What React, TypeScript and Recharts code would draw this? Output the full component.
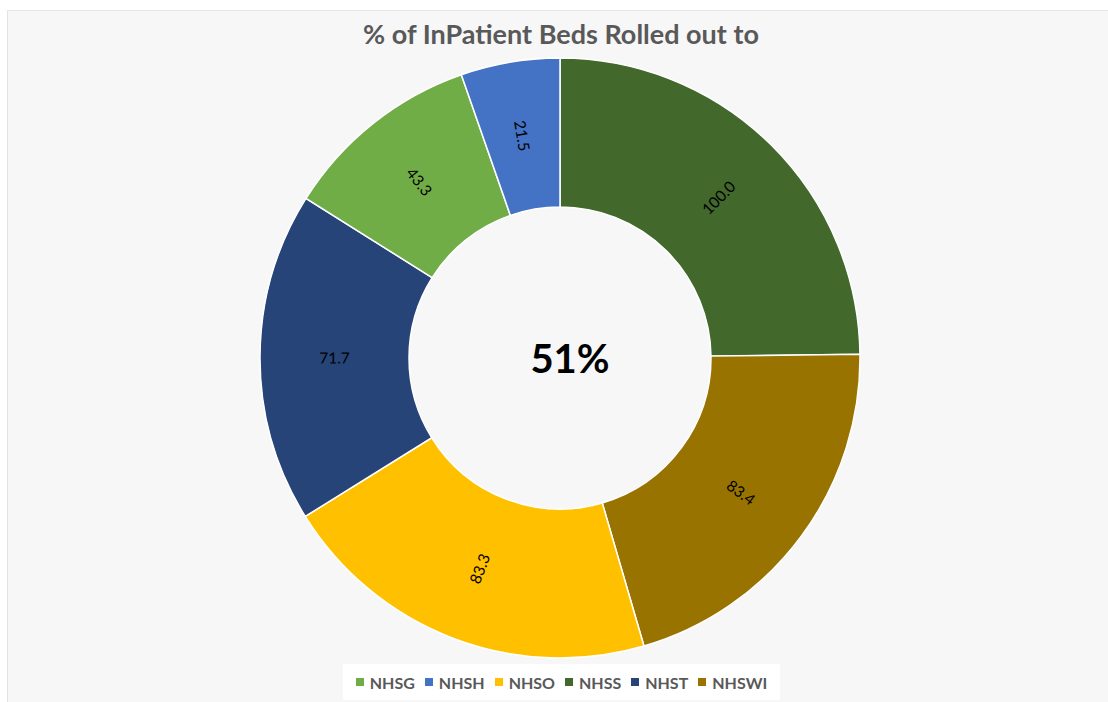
import { PieChart, Pie, Cell } from 'recharts';

// slice order as drawn, clockwise from 12 o'clock
const sliceNames = ['NHSS', 'NHSWI', 'NHSO', 'NHST', 'NHSG', 'NHSH'];
const sliceValues = [100.0, 83.4, 83.3, 71.7, 43.3, 21.5];
const sliceColors = ['#43682b', '#997300', '#ffc000', '#264478', '#70ad47', '#4472c4'];

// legend is alphabetical
const legendNames = ['NHSG', 'NHSH', 'NHSO', 'NHSS', 'NHST', 'NHSWI'];

const title = '% of InPatient Beds Rolled out to';
const centerText = '51%';

const data = sliceNames.map((name, i) => ({ name, value: sliceValues[i], color: sliceColors[i] }));

const FONT = 'Lato, "Open Sans", sans-serif';
const RADIAN = Math.PI / 180;

const renderLabel = (props: any) => {
  const { cx, cy, midAngle, innerRadius, outerRadius, value } = props;
  const r = (innerRadius + outerRadius) / 2;
  const x = cx + r * Math.cos(-midAngle * RADIAN);
  const y = cy + r * Math.sin(-midAngle * RADIAN);
  const mid = ((midAngle % 360) + 360) % 360;
  // keep text along the radius, never upside down
  const rot = mid > 90 && mid < 270 ? 180 - mid : -mid;
  return (
    <text
      x={x}
      y={y}
      fill="#000"
      fontSize={15.5}
      fontFamily={FONT}
      textAnchor="middle"
      dominantBaseline="central"
      transform={`rotate(${rot} ${x} ${y})`}
    >
      {value.toFixed(1)}
    </text>
  );
};

export default function App() {
  return (
    <div style={{ position: 'absolute', left: 0, top: 0, width: 1108, height: 702, background: '#fff', overflow: 'hidden' }}>
      <div
        style={{
          position: 'absolute',
          left: 7,
          top: 10,
          width: 1101,
          height: 692,
          background: '#f7f7f7',
          borderLeft: '1px solid #e2e2e2',
          borderTop: '1px solid #e6e6e6',
          boxSizing: 'border-box',
        }}
      />
      <div
        style={{
          position: 'absolute',
          left: 0,
          top: 17,
          width: 1122,
          textAlign: 'center',
          fontFamily: FONT,
          fontWeight: 700,
          fontSize: 27,
          lineHeight: '34px',
          color: '#595959',
        }}
      >
        {title}
      </div>
      <div style={{ position: 'absolute', left: 0, top: 0 }}>
        <PieChart width={1108} height={702} margin={{ top: 0, right: 0, bottom: 0, left: 0 }}>
          <Pie
            data={data}
            dataKey="value"
            nameKey="name"
            cx={560}
            cy={358}
            innerRadius={151}
            outerRadius={300}
            startAngle={90}
            endAngle={-270}
            stroke="#ffffff"
            strokeWidth={1.5}
            label={renderLabel}
            labelLine={false}
            isAnimationActive={false}
          >
            {data.map((d) => (
              <Cell key={d.name} fill={d.color} />
            ))}
          </Pie>
        </PieChart>
      </div>
      <div
        style={{
          position: 'absolute',
          left: 470,
          top: 334,
          width: 200,
          textAlign: 'center',
          fontFamily: FONT,
          fontWeight: 700,
          fontSize: 40,
          color: '#000',
          lineHeight: '48px',
        }}
      >
        {centerText}
      </div>
      <div
        style={{
          position: 'absolute',
          left: 343,
          top: 664,
          width: 437,
          height: 36,
          background: '#ffffff',
          display: 'flex',
          alignItems: 'center',
          justifyContent: 'center',
          gap: 10,
          fontFamily: FONT,
          fontWeight: 700,
          fontSize: 16,
          color: '#595959',
        }}
      >
        {legendNames.map((n) => (
          <div key={n} style={{ display: 'flex', alignItems: 'center', gap: 6 }}>
            <div style={{ width: 8, height: 8, background: sliceColors[sliceNames.indexOf(n)] }} />
            <span>{n}</span>
          </div>
        ))}
      </div>
    </div>
  );
}
